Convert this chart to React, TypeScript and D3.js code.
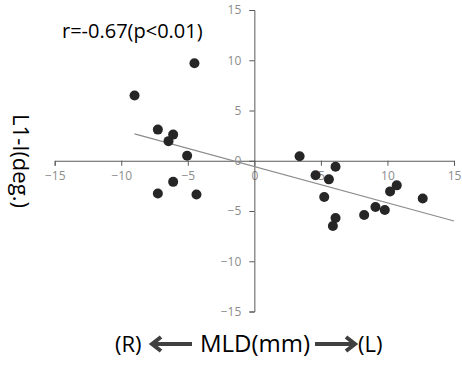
import React, { useEffect, useRef } from "react";
import * as d3 from "d3";

// MLD (mm) and L1-I (deg.)
const mld = [-9, -4.5, -7.25, -6.1, -6.45, -5.05, -6.1, -7.25, -4.35, 3.4, 4.6, 6.1, 5.6, 5.25, 6.1, 5.9, 8.25, 9.1, 9.8, 10.2, 10.7, 12.65];
const angle = [6.5, 9.7, 3.1, 2.6, 1.95, 0.5, -2.1, -3.25, -3.35, 0.45, -1.45, -0.6, -1.85, -3.6, -5.7, -6.5, -5.4, -4.6, -4.9, -3.05, -2.45, -3.75];
const xTicks = [-15, -10, -5, 0, 5, 10, 15];
const yTicks = [-15, -10, -5, 0, 5, 10, 15];
const note = "r=-0.67(p<0.01)";

const App: React.FC = () => {
  const svgRef = useRef<SVGSVGElement | null>(null);

  useEffect(() => {
    const svg = d3.select(svgRef.current);
    svg.selectAll("*").remove();

    const w = 462;
    const h = 367;
    const font = "'Open Sans', sans-serif";

    const x = d3.scaleLinear().domain([-15, 15]).range([54.7, 454]);
    const y = d3.scaleLinear().domain([-15, 15]).range([311.5, 10]);

    svg.attr("width", w).attr("height", h).style("background", "#fff");

    // x axis through y=0
    const xAxis = svg
      .append("g")
      .attr("transform", `translate(0,${y(0)})`)
      .call(d3.axisBottom(x).tickValues(xTicks).tickSize(5).tickSizeOuter(5).tickPadding(6));
    xAxis.select(".domain").attr("stroke", "#595959");
    xAxis.selectAll(".tick line").attr("stroke", "#595959");
    xAxis
      .selectAll(".tick text")
      .attr("fill", "#8c8c8c")
      .style("font-family", font)
      .style("font-size", "12px");

    // y axis through x=0
    const yAxis = svg
      .append("g")
      .attr("transform", `translate(${x(0)},0)`)
      .call(d3.axisLeft(y).tickValues(yTicks).tickSize(5).tickSizeOuter(5).tickPadding(8));
    yAxis.select(".domain").attr("stroke", "#595959");
    yAxis.selectAll(".tick line").attr("stroke", "#595959");
    yAxis
      .selectAll(".tick text")
      .attr("fill", "#8c8c8c")
      .style("font-family", font)
      .style("font-size", "12px");

    // linear trend (least squares), drawn from min x to axis end
    const mx = d3.mean(mld)!;
    const my = d3.mean(angle)!;
    let sxy = 0;
    let sxx = 0;
    mld.forEach((v, i) => {
      sxy += (v - mx) * (angle[i] - my);
      sxx += (v - mx) * (v - mx);
    });
    const slope = sxy / sxx;
    const icpt = my - slope * mx;
    const x0 = d3.min(mld)!;
    const x1 = 15;
    svg
      .append("line")
      .attr("x1", x(x0))
      .attr("y1", y(icpt + slope * x0))
      .attr("x2", x(x1))
      .attr("y2", y(icpt + slope * x1))
      .attr("stroke", "#8c8c8c")
      .attr("stroke-width", 1.2);

    svg
      .append("g")
      .selectAll("circle")
      .data(mld.map((v, i) => [v, angle[i]]))
      .enter()
      .append("circle")
      .attr("cx", d => x(d[0]))
      .attr("cy", d => y(d[1]))
      .attr("r", 5)
      .attr("fill", "#262626");

    svg
      .append("text")
      .attr("x", 62)
      .attr("y", 38)
      .attr("fill", "#000")
      .style("font-family", font)
      .style("font-size", "20px")
      .text(note);

    // y title
    svg
      .append("text")
      .attr("transform", `translate(13,161) rotate(90)`)
      .attr("text-anchor", "middle")
      .attr("fill", "#000")
      .style("font-family", font)
      .style("font-size", "22px")
      .text("L1-I(deg.)");

    // x title with direction arrows
    const by = 352;
    const lab = svg.append("g").style("font-family", font).attr("fill", "#000");
    lab.append("text").attr("x", 115).attr("y", by).style("font-size", "22px").text("(R)");
    lab.append("text").attr("x", 255).attr("y", by).attr("text-anchor", "middle").style("font-size", "24px").text("MLD(mm)");
    lab.append("text").attr("x", 358).attr("y", by).style("font-size", "22px").text("(L)");

    const ay = 344;
    const arrow = svg.append("g").attr("stroke", "#404040").attr("stroke-width", 4).attr("fill", "none");
    arrow.append("line").attr("x1", 152).attr("y1", ay).attr("x2", 192).attr("y2", ay);
    arrow.append("polyline").attr("points", `${161},${ay - 7} ${152},${ay} ${161},${ay + 7}`).attr("stroke-linejoin", "miter");
    arrow.append("line").attr("x1", 315).attr("y1", ay).attr("x2", 355).attr("y2", ay);
    arrow.append("polyline").attr("points", `${346},${ay - 7} ${355},${ay} ${346},${ay + 7}`).attr("stroke-linejoin", "miter");
  }, []);

  return (
    <div style={{ position: "fixed", left: 0, top: 0 }}>
      <svg ref={svgRef}></svg>
    </div>
  );
};

export default App;
